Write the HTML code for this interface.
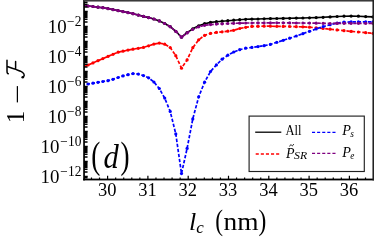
<!DOCTYPE html>
<html><head><meta charset="utf-8"><title>plot</title>
<style>
html,body{margin:0;padding:0;background:#fff;}
body{width:374px;height:242px;overflow:hidden;font-family:"Liberation Serif",serif;}
svg{display:block;}
text{font-family:"Liberation Serif",serif;fill:#000;}
</style></head><body>
<svg width="374" height="242" viewBox="0 0 374 242">
<rect x="0" y="0" width="374" height="242" fill="#fff"/>
<defs><clipPath id="pc"><rect x="84.05" y="0" width="290.25" height="179.5"/></clipPath></defs>
<g clip-path="url(#pc)">
<path d="M83.3,5.4 L88.1,6.0 L93.0,6.5 L98.0,7.2 L102.9,7.7 L108.0,8.6 L113.0,9.6 L118.1,10.6 L123.0,11.6 L128.0,12.6 L133.0,13.7 L138.3,15.1 L143.5,16.4 L148.6,17.6 L153.9,19.0 L159.3,20.9 L164.7,23.5 L170.2,26.7 L175.8,31.3 L181.5,37.2 L187.1,32.6 L192.8,28.8 L198.7,25.8 L204.6,23.7 L210.5,22.4 L216.4,21.7 L222.1,21.2 L227.8,20.7 L233.7,20.2 L239.7,19.7 L245.7,19.3 L251.9,19.1 L258.0,19.0 L264.1,18.8 L270.4,18.6 L276.8,18.5 L283.2,18.4 L289.7,18.3 L296.3,18.1 L302.9,18.0 L309.5,17.8 L316.2,17.6 L323.1,17.3 L330.1,16.9 L337.1,16.5 L344.0,16.2 L351.1,16.1 L358.4,16.2 L365.7,16.6 L373.0,16.9" fill="none" stroke="#000000" stroke-width="1.6" stroke-linejoin="round"/>
<g fill="#000000"><circle cx="83.3" cy="5.4" r="1.6"/><circle cx="88.1" cy="6.0" r="1.6"/><circle cx="93.0" cy="6.5" r="1.6"/><circle cx="98.0" cy="7.2" r="1.6"/><circle cx="102.9" cy="7.7" r="1.6"/><circle cx="108.0" cy="8.6" r="1.6"/><circle cx="113.0" cy="9.6" r="1.6"/><circle cx="118.1" cy="10.6" r="1.6"/><circle cx="123.0" cy="11.6" r="1.6"/><circle cx="128.0" cy="12.6" r="1.6"/><circle cx="133.0" cy="13.7" r="1.6"/><circle cx="138.3" cy="15.1" r="1.6"/><circle cx="143.5" cy="16.4" r="1.6"/><circle cx="148.6" cy="17.6" r="1.6"/><circle cx="153.9" cy="19.0" r="1.6"/><circle cx="159.3" cy="20.9" r="1.6"/><circle cx="164.7" cy="23.5" r="1.6"/><circle cx="170.2" cy="26.7" r="1.6"/><circle cx="175.8" cy="31.3" r="1.6"/><circle cx="181.5" cy="37.2" r="1.6"/><circle cx="187.1" cy="32.6" r="1.6"/><circle cx="192.8" cy="28.8" r="1.6"/><circle cx="198.7" cy="25.8" r="1.6"/><circle cx="204.6" cy="23.7" r="1.6"/><circle cx="210.5" cy="22.4" r="1.6"/><circle cx="216.4" cy="21.7" r="1.6"/><circle cx="222.1" cy="21.2" r="1.6"/><circle cx="227.8" cy="20.7" r="1.6"/><circle cx="233.7" cy="20.2" r="1.6"/><circle cx="239.7" cy="19.7" r="1.6"/><circle cx="245.7" cy="19.3" r="1.6"/><circle cx="251.9" cy="19.1" r="1.6"/><circle cx="258.0" cy="19.0" r="1.6"/><circle cx="264.1" cy="18.8" r="1.6"/><circle cx="270.4" cy="18.6" r="1.6"/><circle cx="276.8" cy="18.5" r="1.6"/><circle cx="283.2" cy="18.4" r="1.6"/><circle cx="289.7" cy="18.3" r="1.6"/><circle cx="296.3" cy="18.1" r="1.6"/><circle cx="302.9" cy="18.0" r="1.6"/><circle cx="309.5" cy="17.8" r="1.6"/><circle cx="316.2" cy="17.6" r="1.6"/><circle cx="323.1" cy="17.3" r="1.6"/><circle cx="330.1" cy="16.9" r="1.6"/><circle cx="337.1" cy="16.5" r="1.6"/><circle cx="344.0" cy="16.2" r="1.6"/><circle cx="351.1" cy="16.1" r="1.6"/><circle cx="358.4" cy="16.2" r="1.6"/><circle cx="365.7" cy="16.6" r="1.6"/><circle cx="373.0" cy="16.9" r="1.6"/></g>
<path d="M83.3,67.0 L88.1,65.0 L93.0,62.9 L98.0,60.7 L102.9,58.6 L108.0,56.4 L113.0,54.3 L118.1,52.2 L123.0,51.2 L128.0,50.1 L133.0,49.2 L138.3,48.3 L143.5,47.4 L148.6,45.8 L153.9,44.1 L159.3,43.1 L164.7,44.2 L170.2,47.5 L175.8,55.7 L181.5,68.2 L187.1,59.9 L192.8,47.7 L198.7,39.8 L204.6,35.4 L210.5,33.4 L216.4,32.4 L222.1,31.8 L227.8,31.2 L233.7,30.3 L239.7,28.5 L245.7,27.3 L251.9,26.4 L258.0,26.3 L264.1,26.2 L270.4,26.2 L276.8,26.3 L283.2,26.4 L289.7,26.5 L296.3,26.7 L302.9,26.8 L309.5,27.2 L316.2,27.8 L323.1,28.5 L330.1,29.2 L337.1,29.9 L344.0,30.7 L351.1,31.4 L358.4,32.0 L365.7,32.7 L373.0,33.3" fill="none" stroke="#ff0000" stroke-width="1.7" stroke-linejoin="round" stroke-dasharray="3.5 1.83" stroke-dashoffset="-0.9"/>
<g fill="#ff0000"><circle cx="83.3" cy="67.0" r="1.6"/><circle cx="88.1" cy="65.0" r="1.6"/><circle cx="93.0" cy="62.9" r="1.6"/><circle cx="98.0" cy="60.7" r="1.6"/><circle cx="102.9" cy="58.6" r="1.6"/><circle cx="108.0" cy="56.4" r="1.6"/><circle cx="113.0" cy="54.3" r="1.6"/><circle cx="118.1" cy="52.2" r="1.6"/><circle cx="123.0" cy="51.2" r="1.6"/><circle cx="128.0" cy="50.1" r="1.6"/><circle cx="133.0" cy="49.2" r="1.6"/><circle cx="138.3" cy="48.3" r="1.6"/><circle cx="143.5" cy="47.4" r="1.6"/><circle cx="148.6" cy="45.8" r="1.6"/><circle cx="153.9" cy="44.1" r="1.6"/><circle cx="159.3" cy="43.1" r="1.6"/><circle cx="164.7" cy="44.2" r="1.6"/><circle cx="170.2" cy="47.5" r="1.6"/><circle cx="175.8" cy="55.7" r="1.6"/><circle cx="181.5" cy="68.2" r="1.6"/><circle cx="187.1" cy="59.9" r="1.6"/><circle cx="192.8" cy="47.7" r="1.6"/><circle cx="198.7" cy="39.8" r="1.6"/><circle cx="204.6" cy="35.4" r="1.6"/><circle cx="210.5" cy="33.4" r="1.6"/><circle cx="216.4" cy="32.4" r="1.6"/><circle cx="222.1" cy="31.8" r="1.6"/><circle cx="227.8" cy="31.2" r="1.6"/><circle cx="233.7" cy="30.3" r="1.6"/><circle cx="239.7" cy="28.5" r="1.6"/><circle cx="245.7" cy="27.3" r="1.6"/><circle cx="251.9" cy="26.4" r="1.6"/><circle cx="258.0" cy="26.3" r="1.6"/><circle cx="264.1" cy="26.2" r="1.6"/><circle cx="270.4" cy="26.2" r="1.6"/><circle cx="276.8" cy="26.3" r="1.6"/><circle cx="283.2" cy="26.4" r="1.6"/><circle cx="289.7" cy="26.5" r="1.6"/><circle cx="296.3" cy="26.7" r="1.6"/><circle cx="302.9" cy="26.8" r="1.6"/><circle cx="309.5" cy="27.2" r="1.6"/><circle cx="316.2" cy="27.8" r="1.6"/><circle cx="323.1" cy="28.5" r="1.6"/><circle cx="330.1" cy="29.2" r="1.6"/><circle cx="337.1" cy="29.9" r="1.6"/><circle cx="344.0" cy="30.7" r="1.6"/><circle cx="351.1" cy="31.4" r="1.6"/><circle cx="358.4" cy="32.0" r="1.6"/><circle cx="365.7" cy="32.7" r="1.6"/><circle cx="373.0" cy="33.3" r="1.6"/></g>
<path d="M83.3,84.8 L88.1,84.0 L93.0,83.2 L98.0,82.3 L102.9,81.5 L108.0,80.7 L113.0,79.3 L118.1,77.5 L123.0,75.9 L128.0,74.7 L133.0,73.6 L138.3,74.1 L143.5,75.6 L148.6,77.8 L153.9,82.0 L159.3,88.5 L164.7,98.1 L170.2,111.4 L175.8,133.9 L181.5,173.6 L187.1,148.4 L192.8,118.9 L198.7,96.8 L204.6,82.2 L210.5,71.5 L216.4,64.9 L222.1,59.2 L227.8,55.2 L233.7,52.0 L239.7,49.7 L245.7,48.2 L251.9,47.4 L258.0,46.6 L264.1,45.7 L270.4,44.4 L276.8,42.3 L283.2,40.3 L289.7,38.2 L296.3,36.0 L302.9,33.7 L309.5,31.3 L316.2,28.9 L323.1,26.7 L330.1,24.7 L337.1,23.0 L344.0,22.2 L351.1,21.9 L358.4,21.9 L365.7,21.9 L373.0,21.9" fill="none" stroke="#0000ff" stroke-width="1.7" stroke-linejoin="round" stroke-dasharray="3.35 1.75" stroke-dashoffset="1.7"/>
<g fill="#0000ff"><circle cx="83.3" cy="84.8" r="1.6"/><circle cx="88.1" cy="84.0" r="1.6"/><circle cx="93.0" cy="83.2" r="1.6"/><circle cx="98.0" cy="82.3" r="1.6"/><circle cx="102.9" cy="81.5" r="1.6"/><circle cx="108.0" cy="80.7" r="1.6"/><circle cx="113.0" cy="79.3" r="1.6"/><circle cx="118.1" cy="77.5" r="1.6"/><circle cx="123.0" cy="75.9" r="1.6"/><circle cx="128.0" cy="74.7" r="1.6"/><circle cx="133.0" cy="73.6" r="1.6"/><circle cx="138.3" cy="74.1" r="1.6"/><circle cx="143.5" cy="75.6" r="1.6"/><circle cx="148.6" cy="77.8" r="1.6"/><circle cx="153.9" cy="82.0" r="1.6"/><circle cx="159.3" cy="88.5" r="1.6"/><circle cx="164.7" cy="98.1" r="1.6"/><circle cx="170.2" cy="111.4" r="1.6"/><circle cx="175.8" cy="133.9" r="1.6"/><circle cx="181.5" cy="173.6" r="1.6"/><circle cx="187.1" cy="148.4" r="1.6"/><circle cx="192.8" cy="118.9" r="1.6"/><circle cx="198.7" cy="96.8" r="1.6"/><circle cx="204.6" cy="82.2" r="1.6"/><circle cx="210.5" cy="71.5" r="1.6"/><circle cx="216.4" cy="64.9" r="1.6"/><circle cx="222.1" cy="59.2" r="1.6"/><circle cx="227.8" cy="55.2" r="1.6"/><circle cx="233.7" cy="52.0" r="1.6"/><circle cx="239.7" cy="49.7" r="1.6"/><circle cx="245.7" cy="48.2" r="1.6"/><circle cx="251.9" cy="47.4" r="1.6"/><circle cx="258.0" cy="46.6" r="1.6"/><circle cx="264.1" cy="45.7" r="1.6"/><circle cx="270.4" cy="44.4" r="1.6"/><circle cx="276.8" cy="42.3" r="1.6"/><circle cx="283.2" cy="40.3" r="1.6"/><circle cx="289.7" cy="38.2" r="1.6"/><circle cx="296.3" cy="36.0" r="1.6"/><circle cx="302.9" cy="33.7" r="1.6"/><circle cx="309.5" cy="31.3" r="1.6"/><circle cx="316.2" cy="28.9" r="1.6"/><circle cx="323.1" cy="26.7" r="1.6"/><circle cx="330.1" cy="24.7" r="1.6"/><circle cx="337.1" cy="23.0" r="1.6"/><circle cx="344.0" cy="22.2" r="1.6"/><circle cx="351.1" cy="21.9" r="1.6"/><circle cx="358.4" cy="21.9" r="1.6"/><circle cx="365.7" cy="21.9" r="1.6"/><circle cx="373.0" cy="21.9" r="1.6"/></g>
<path d="M83.3,5.4 L88.1,6.0 L93.0,6.5 L98.0,7.2 L102.9,7.7 L108.0,8.6 L113.0,9.6 L118.1,10.6 L123.0,11.6 L128.0,12.6 L133.0,13.7 L138.3,15.1 L143.5,16.4 L148.6,17.6 L153.9,19.0 L159.3,20.9 L164.7,23.5 L170.2,26.7 L175.8,31.3 L181.5,37.2 L187.1,32.9 L192.8,29.3 L198.7,26.8 L204.6,25.3 L210.5,24.6 L216.4,24.1 L222.1,23.8 L227.8,23.5 L233.7,23.3 L239.7,23.2 L245.7,23.0 L251.9,23.0 L258.0,22.9 L264.1,22.9 L270.4,22.9 L276.8,22.8 L283.2,22.8 L289.7,22.9 L296.3,23.0 L302.9,23.0 L309.5,23.1 L316.2,23.2 L323.1,23.3 L330.1,23.5 L337.1,23.4 L344.0,23.3 L351.1,23.3 L358.4,23.3 L365.7,23.3 L373.0,23.3" fill="none" stroke="#800080" stroke-width="1.7" stroke-linejoin="round" stroke-dasharray="3.35 1.75" stroke-dashoffset="0"/>
<g fill="#800080"><circle cx="83.3" cy="5.4" r="1.6"/><circle cx="88.1" cy="6.0" r="1.6"/><circle cx="93.0" cy="6.5" r="1.6"/><circle cx="98.0" cy="7.2" r="1.6"/><circle cx="102.9" cy="7.7" r="1.6"/><circle cx="108.0" cy="8.6" r="1.6"/><circle cx="113.0" cy="9.6" r="1.6"/><circle cx="118.1" cy="10.6" r="1.6"/><circle cx="123.0" cy="11.6" r="1.6"/><circle cx="128.0" cy="12.6" r="1.6"/><circle cx="133.0" cy="13.7" r="1.6"/><circle cx="138.3" cy="15.1" r="1.6"/><circle cx="143.5" cy="16.4" r="1.6"/><circle cx="148.6" cy="17.6" r="1.6"/><circle cx="153.9" cy="19.0" r="1.6"/><circle cx="159.3" cy="20.9" r="1.6"/><circle cx="164.7" cy="23.5" r="1.6"/><circle cx="170.2" cy="26.7" r="1.6"/><circle cx="175.8" cy="31.3" r="1.6"/><circle cx="181.5" cy="37.2" r="1.6"/><circle cx="187.1" cy="32.9" r="1.6"/><circle cx="192.8" cy="29.3" r="1.6"/><circle cx="198.7" cy="26.8" r="1.6"/><circle cx="204.6" cy="25.3" r="1.6"/><circle cx="210.5" cy="24.6" r="1.6"/><circle cx="216.4" cy="24.1" r="1.6"/><circle cx="222.1" cy="23.8" r="1.6"/><circle cx="227.8" cy="23.5" r="1.6"/><circle cx="233.7" cy="23.3" r="1.6"/><circle cx="239.7" cy="23.2" r="1.6"/><circle cx="245.7" cy="23.0" r="1.6"/><circle cx="251.9" cy="23.0" r="1.6"/><circle cx="258.0" cy="22.9" r="1.6"/><circle cx="264.1" cy="22.9" r="1.6"/><circle cx="270.4" cy="22.9" r="1.6"/><circle cx="276.8" cy="22.8" r="1.6"/><circle cx="283.2" cy="22.8" r="1.6"/><circle cx="289.7" cy="22.9" r="1.6"/><circle cx="296.3" cy="23.0" r="1.6"/><circle cx="302.9" cy="23.0" r="1.6"/><circle cx="309.5" cy="23.1" r="1.6"/><circle cx="316.2" cy="23.2" r="1.6"/><circle cx="323.1" cy="23.3" r="1.6"/><circle cx="330.1" cy="23.5" r="1.6"/><circle cx="337.1" cy="23.4" r="1.6"/><circle cx="344.0" cy="23.3" r="1.6"/><circle cx="351.1" cy="23.3" r="1.6"/><circle cx="358.4" cy="23.3" r="1.6"/><circle cx="365.7" cy="23.3" r="1.6"/><circle cx="373.0" cy="23.3" r="1.6"/></g>
</g>
<path d="M91.48,179.5 v-2.0 M99.54,179.5 v-2.0 M107.60,179.5 v-3.7 M115.66,179.5 v-2.0 M123.72,179.5 v-2.0 M131.78,179.5 v-2.0 M139.84,179.5 v-2.0 M147.90,179.5 v-3.7 M155.96,179.5 v-2.0 M164.02,179.5 v-2.0 M172.08,179.5 v-2.0 M180.14,179.5 v-2.0 M188.20,179.5 v-3.7 M196.26,179.5 v-2.0 M204.32,179.5 v-2.0 M212.38,179.5 v-2.0 M220.44,179.5 v-2.0 M228.50,179.5 v-3.7 M236.56,179.5 v-2.0 M244.62,179.5 v-2.0 M252.68,179.5 v-2.0 M260.74,179.5 v-2.0 M268.80,179.5 v-3.7 M276.86,179.5 v-2.0 M284.92,179.5 v-2.0 M292.98,179.5 v-2.0 M301.04,179.5 v-2.0 M309.10,179.5 v-3.7 M317.16,179.5 v-2.0 M325.22,179.5 v-2.0 M333.28,179.5 v-2.0 M341.34,179.5 v-2.0 M349.40,179.5 v-3.7 M357.46,179.5 v-2.0 M365.52,179.5 v-2.0" stroke="#000" stroke-width="1.2" fill="none"/>
<path d="M84.05,177.85 h3.5 M84.05,177.09 h3.5 M84.05,176.40 h3.7 M84.05,171.88 h3.5 M84.05,169.24 h3.5 M84.05,167.37 h3.5 M84.05,165.92 h3.5 M84.05,164.73 h3.5 M84.05,163.72 h3.5 M84.05,162.85 h3.5 M84.05,162.09 h3.5 M84.05,161.40 h3.7 M84.05,156.88 h3.5 M84.05,154.24 h3.5 M84.05,152.37 h3.5 M84.05,150.92 h3.5 M84.05,149.73 h3.5 M84.05,148.72 h3.5 M84.05,147.85 h3.5 M84.05,147.09 h3.5 M84.05,146.40 h3.7 M84.05,141.88 h3.5 M84.05,139.24 h3.5 M84.05,137.37 h3.5 M84.05,135.92 h3.5 M84.05,134.73 h3.5 M84.05,133.72 h3.5 M84.05,132.85 h3.5 M84.05,132.09 h3.5 M84.05,131.40 h3.7 M84.05,126.88 h3.5 M84.05,124.24 h3.5 M84.05,122.37 h3.5 M84.05,120.92 h3.5 M84.05,119.73 h3.5 M84.05,118.72 h3.5 M84.05,117.85 h3.5 M84.05,117.09 h3.5 M84.05,116.40 h3.7 M84.05,111.88 h3.5 M84.05,109.24 h3.5 M84.05,107.37 h3.5 M84.05,105.92 h3.5 M84.05,104.73 h3.5 M84.05,103.72 h3.5 M84.05,102.85 h3.5 M84.05,102.09 h3.5 M84.05,101.40 h3.7 M84.05,96.88 h3.5 M84.05,94.24 h3.5 M84.05,92.37 h3.5 M84.05,90.92 h3.5 M84.05,89.73 h3.5 M84.05,88.72 h3.5 M84.05,87.85 h3.5 M84.05,87.09 h3.5 M84.05,86.40 h3.7 M84.05,81.88 h3.5 M84.05,79.24 h3.5 M84.05,77.37 h3.5 M84.05,75.92 h3.5 M84.05,74.73 h3.5 M84.05,73.72 h3.5 M84.05,72.85 h3.5 M84.05,72.09 h3.5 M84.05,71.40 h3.7 M84.05,66.88 h3.5 M84.05,64.24 h3.5 M84.05,62.37 h3.5 M84.05,60.92 h3.5 M84.05,59.73 h3.5 M84.05,58.72 h3.5 M84.05,57.85 h3.5 M84.05,57.09 h3.5 M84.05,56.40 h3.7 M84.05,51.88 h3.5 M84.05,49.24 h3.5 M84.05,47.37 h3.5 M84.05,45.92 h3.5 M84.05,44.73 h3.5 M84.05,43.72 h3.5 M84.05,42.85 h3.5 M84.05,42.09 h3.5 M84.05,41.40 h3.7 M84.05,36.88 h3.5 M84.05,34.24 h3.5 M84.05,32.37 h3.5 M84.05,30.92 h3.5 M84.05,29.73 h3.5 M84.05,28.72 h3.5 M84.05,27.85 h3.5 M84.05,27.09 h3.5 M84.05,26.40 h3.7 M84.05,21.88 h3.5 M84.05,19.24 h3.5 M84.05,17.37 h3.5 M84.05,15.92 h3.5 M84.05,14.73 h3.5 M84.05,13.72 h3.5 M84.05,12.85 h3.5 M84.05,12.09 h3.5 M84.05,11.40 h3.7 M84.05,6.88 h3.5 M84.05,4.24 h3.5 M84.05,2.37 h3.5" stroke="#000" stroke-width="1.5" fill="none"/>
<rect x="83.2" y="0" width="1.7" height="180.4" fill="#000"/>
<rect x="83.2" y="178.6" width="290.8" height="1.8" fill="#000"/>
<rect x="83.2" y="0" width="290.8" height="1.55" fill="#3a3a3a"/>
<rect x="372.45" y="0" width="1.6" height="180.4" fill="#222"/>
<g opacity="0.999">
<text transform="translate(107.20,196.30) scale(0.950,1.000)" font-size="19.5" text-anchor="middle">30</text>
<text transform="translate(147.50,196.30) scale(0.950,1.000)" font-size="19.5" text-anchor="middle">31</text>
<text transform="translate(187.80,196.30) scale(0.950,1.000)" font-size="19.5" text-anchor="middle">32</text>
<text transform="translate(228.10,196.30) scale(0.950,1.000)" font-size="19.5" text-anchor="middle">33</text>
<text transform="translate(268.40,196.30) scale(0.950,1.000)" font-size="19.5" text-anchor="middle">34</text>
<text transform="translate(308.70,196.30) scale(0.950,1.000)" font-size="19.5" text-anchor="middle">35</text>
<text transform="translate(349.00,196.30) scale(0.950,1.000)" font-size="19.5" text-anchor="middle">36</text>
<text transform="translate(81.40,25.60) scale(0.960,1.000)" font-size="14.0" text-anchor="end">−2</text>
<text transform="translate(66.60,33.00) scale(0.970,1.000)" font-size="19.5" text-anchor="end">10</text>
<text transform="translate(81.40,55.60) scale(0.960,1.000)" font-size="14.0" text-anchor="end">−4</text>
<text transform="translate(66.60,63.00) scale(0.970,1.000)" font-size="19.5" text-anchor="end">10</text>
<text transform="translate(81.40,85.60) scale(0.960,1.000)" font-size="14.0" text-anchor="end">−6</text>
<text transform="translate(66.60,93.00) scale(0.970,1.000)" font-size="19.5" text-anchor="end">10</text>
<text transform="translate(81.40,115.60) scale(0.960,1.000)" font-size="14.0" text-anchor="end">−8</text>
<text transform="translate(66.60,123.00) scale(0.970,1.000)" font-size="19.5" text-anchor="end">10</text>
<text transform="translate(81.40,145.60) scale(0.960,1.000)" font-size="14.0" text-anchor="end">−10</text>
<text transform="translate(59.40,153.00) scale(0.970,1.000)" font-size="19.5" text-anchor="end">10</text>
<text transform="translate(81.40,175.60) scale(0.960,1.000)" font-size="14.0" text-anchor="end">−12</text>
<text transform="translate(59.40,183.00) scale(0.970,1.000)" font-size="19.5" text-anchor="end">10</text>
<text transform="translate(24.00,123.20) rotate(-90)" font-size="25.2" text-anchor="start">1</text>
<path d="M17.4,86.1 V102.4" stroke="#000" stroke-width="1.25" fill="none"/>
<path d="M8.3,73.7 C7.2,73.6 7.0,72.6 7.0,71.0 L7.0,60.2 M7.1,66.4 C12,68 17,69.6 20.5,71.2 C24,72.9 25.2,75 23.4,77.0 M15.6,61.6 V68.8" stroke="#000" stroke-width="1.5" fill="none" stroke-linecap="round"/>
<circle cx="22.7" cy="77.2" r="1.3" fill="#000"/>
<text transform="translate(189.00,229.80)" font-size="26" text-anchor="start" font-style="italic">l</text>
<text transform="translate(196.30,233.20)" font-size="17" text-anchor="start" font-style="italic">c</text>
<text transform="translate(215.20,229.80) scale(0.900,1.120)" font-size="26" text-anchor="start">(</text>
<text transform="translate(223.50,229.80) scale(1.055,1.000)" font-size="26" text-anchor="start">nm</text>
<text transform="translate(258.60,229.80) scale(0.900,1.120)" font-size="26" text-anchor="start">)</text>
<text transform="translate(91.30,167.80) scale(0.800,1.100)" font-size="34" text-anchor="start">(</text>
<text transform="translate(103.50,167.80) scale(0.900,1.000)" font-size="34" text-anchor="start" font-style="italic">d</text>
<text transform="translate(120.50,167.80) scale(0.800,1.100)" font-size="34" text-anchor="start">)</text>
<text transform="translate(285.50,135.30) scale(0.880,1.000)" font-size="14.2" text-anchor="start">All</text>
<text transform="translate(342.20,135.30)" font-size="14.2" text-anchor="start" font-style="italic">P</text>
<text transform="translate(350.30,137.20)" font-size="9.3" text-anchor="start" font-style="italic">s</text>
<text transform="translate(285.90,157.50)" font-size="14.0" text-anchor="start" font-style="italic">P</text>
<text transform="translate(294.00,159.30) scale(1.270,1.000)" font-size="9.3" text-anchor="start" font-style="italic">SR</text>
<path d="M289.7,146.1 C290.3,144.4 291.1,144.6 291.6,145.3 C292.1,146.0 292.9,146.2 293.5,144.5" stroke="#000" stroke-width="0.9" fill="none" stroke-linecap="round"/>
<text transform="translate(342.20,156.90)" font-size="14.2" text-anchor="start" font-style="italic">P</text>
<text transform="translate(350.30,158.80)" font-size="9.3" text-anchor="start" font-style="italic">e</text>
</g>
<rect x="249.1" y="116.1" width="115.2" height="55.4" fill="none" stroke="#222" stroke-width="1.15"/>
<path d="M255.2,132.2 H281.3" stroke="#000" stroke-width="1.3"/>
<path d="M312.0,132.3 H335.6" stroke="#0000ff" stroke-width="1.35" stroke-dasharray="3.1 2.0"/>
<path d="M255.7,153.95 H279.3" stroke="#ff0000" stroke-width="1.35" stroke-dasharray="3.1 2.0"/>
<path d="M312.0,153.4 H335.6" stroke="#800080" stroke-width="1.35" stroke-dasharray="3.1 2.0"/>
</svg></body></html>
